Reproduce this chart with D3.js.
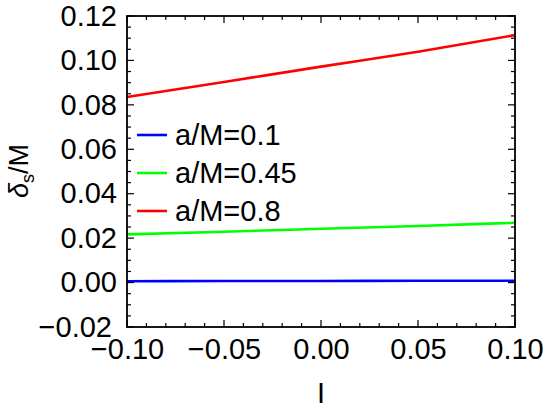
<!DOCTYPE html>
<html><head><meta charset="utf-8">
<script src="https://cdn.jsdelivr.net/npm/d3@7"></script>
<style>body{margin:0;background:#fff}svg{display:block}text{font-family:"Liberation Sans",Arial,sans-serif;fill:#000}</style>
</head><body>
<svg id="c" width="545" height="411"></svg>
<script>
const xValues = [-0.10, -0.05, 0.00, 0.05, 0.10];
const seriesNames = ["a/M=0.1", "a/M=0.45", "a/M=0.8"];
const blueValues = [0.0006, 0.0007, 0.0007, 0.0008, 0.0008];
const greenValues = [0.0217, 0.0229, 0.0242, 0.0255, 0.0269];
const redValues = [0.0835, 0.0903, 0.0972, 0.1039, 0.1114];
const xTicks = [-0.10, -0.05, 0.00, 0.05, 0.10];
const yTicks = [-0.02, 0.00, 0.02, 0.04, 0.06, 0.08, 0.10, 0.12];
const colors = ["#0000ff", "#00ff00", "#ff0000"];
const allSeries = [blueValues, greenValues, redValues];

const FS = 29;
const svg = d3.select("#c");
const L = 127, R = 515, T = 16, B = 327;
const x = d3.scaleLinear().domain([-0.1, 0.1]).range([L, R]);
const y = d3.scaleLinear().domain([-0.02, 0.12]).range([B, T]);
const fmt = v => (v < 0 ? "\u2212" : "") + Math.abs(v).toFixed(2);

// data lines
const line = d3.line().x((d, i) => x(xValues[i])).y(d => y(d)).curve(d3.curveMonotoneX);
allSeries.forEach((s, k) => {
  svg.append("path").attr("d", line(s)).attr("fill", "none")
    .attr("stroke", colors[k]).attr("stroke-width", 2.6);
});

// ticks (inward, all four sides)
const xMinor = d3.range(-0.1, 0.1001, 0.01);
const yMinor = d3.range(-0.02, 0.1201, 0.005);
const g = svg.append("g").attr("stroke", "#000").attr("stroke-width", 1.2);
xMinor.forEach(v => {
  const major = xTicks.some(t => Math.abs(t - v) < 1e-9);
  const len = major ? 7 : 4;
  g.append("line").attr("x1", x(v)).attr("x2", x(v)).attr("y1", B).attr("y2", B - len);
  g.append("line").attr("x1", x(v)).attr("x2", x(v)).attr("y1", T).attr("y2", T + len);
});
yMinor.forEach(v => {
  const major = yTicks.some(t => Math.abs(t - v) < 1e-9);
  const len = major ? 7 : 4;
  g.append("line").attr("y1", y(v)).attr("y2", y(v)).attr("x1", L).attr("x2", L + len);
  g.append("line").attr("y1", y(v)).attr("y2", y(v)).attr("x1", R).attr("x2", R - len);
});

// frame
svg.append("rect").attr("x", L).attr("y", T).attr("width", R - L).attr("height", B - T)
  .attr("fill", "none").attr("stroke", "#000").attr("stroke-width", 1.8);

// tick labels
const xAxis = svg.append("g").attr("transform", `translate(0,${B})`)
  .call(d3.axisBottom(x).tickValues(xTicks).tickFormat(fmt).tickSize(0).tickPadding(11));
xAxis.select(".domain").remove();
xAxis.selectAll("text").attr("font-size", FS).attr("font-family", "Liberation Sans, Arial, sans-serif").attr("fill", "#000");

const yAxis = svg.append("g").attr("transform", `translate(${L},0)`)
  .call(d3.axisLeft(y).tickValues(yTicks).tickFormat(fmt).tickSize(0).tickPadding(10));
yAxis.select(".domain").remove();
yAxis.selectAll("text").attr("font-size", FS).attr("font-family", "Liberation Sans, Arial, sans-serif").attr("fill", "#000")
  .attr("dx", d => Math.abs(d + 0.02) < 1e-9 ? -5 : 0);

// axis titles
svg.append("text").attr("x", x(0)).attr("y", 403).attr("text-anchor", "middle")
  .attr("font-size", FS).text("I");
const yl = svg.append("text").attr("transform", "translate(28,171) rotate(-90)")
  .attr("text-anchor", "middle").attr("font-size", 27);
yl.append("tspan").attr("font-style", "italic").text("\u03b4");
yl.append("tspan").attr("font-size", 18).attr("dy", 6).text("s");
yl.append("tspan").attr("dy", -6).text("/M");

// legend
const legY = [135, 173, 211];
seriesNames.forEach((n, k) => {
  svg.append("line").attr("x1", 137).attr("x2", 167).attr("y1", legY[k]).attr("y2", legY[k])
    .attr("stroke", colors[k]).attr("stroke-width", 2.6);
  svg.append("text").attr("x", 175).attr("y", legY[k] + 10).attr("font-size", 29).text(n);
});
</script>
</body></html>
